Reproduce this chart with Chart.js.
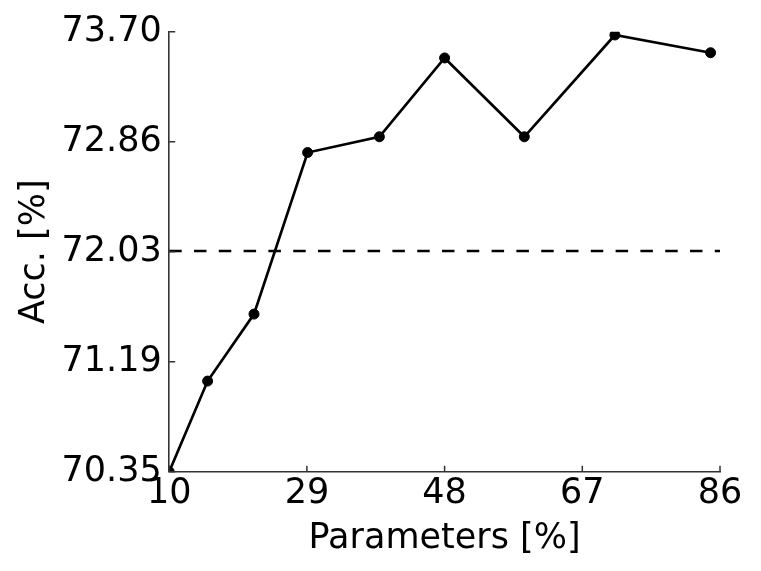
<!DOCTYPE html>
<html>
<head>
<meta charset="utf-8">
<script src="https://cdn.jsdelivr.net/npm/chart.js@4/dist/chart.umd.min.js"></script>
<style>
  html, body { margin: 0; padding: 0; background: #fff; }
  #wrap { width: 761px; height: 571px; }
</style>
</head>
<body>
<div id="wrap"><canvas id="accChart" width="761" height="571"></canvas></div>
<script>
// values
var params = [10, 15.3, 21.7, 29.1, 39.0, 48.0, 59.0, 71.5, 84.7];
var acc = [70.35, 71.04, 71.55, 72.78, 72.90, 73.50, 72.90, 73.675, 73.54];
var baseline = 72.03;
var xTicks = [10, 29, 48, 67, 86];
var yTicks = [70.35, 71.1875, 72.025, 72.8625, 73.70];

var FONT = 'DejaVu Sans';
var AXIS_COL = '#333333';

// small inward tick marks, like the original plot
var innerTicks = {
    id: 'innerTicks',
    afterDraw: function (chart) {
        var ctx = chart.ctx, area = chart.chartArea;
        var xs = chart.scales.x, ys = chart.scales.y;
        ctx.save();
        ctx.strokeStyle = AXIS_COL;
        ctx.lineWidth = 1.5;
        ctx.beginPath();
        xs.ticks.forEach(function (t) {
            var px = xs.getPixelForValue(t.value);
            ctx.moveTo(px, area.bottom);
            ctx.lineTo(px, area.bottom - 6);
        });
        ys.ticks.forEach(function (t) {
            var py = ys.getPixelForValue(t.value);
            ctx.moveTo(area.left, py);
            ctx.lineTo(area.left + 6, py);
        });
        ctx.stroke();
        ctx.restore();
    }
};

var points = params.map(function (p, i) { return {x: p, y: acc[i]}; });
var baseLine = [{x: xTicks[0], y: baseline}, {x: xTicks[xTicks.length - 1], y: baseline}];

new Chart(document.getElementById('accChart'), {
    type: 'line',
    data: {
        datasets: [
            {
                data: baseLine,
                borderColor: '#000',
                borderWidth: 2.5,
                borderDash: [12.5, 12.3],
                pointRadius: 0,
                clip: 0
            },
            {
                data: points,
                borderColor: '#000',
                backgroundColor: '#000',
                borderWidth: 2.7,
                pointRadius: 5,
                pointBorderWidth: 1,
                pointBackgroundColor: '#000',
                pointBorderColor: '#000',
                clip: 0
            }
        ]
    },
    options: {
        responsive: false,
        animation: false,
        layout: { padding: { top: 31.7, right: 41, left: 0, bottom: 0 } },
        plugins: { legend: { display: false }, tooltip: { enabled: false } },
        scales: {
            x: {
                type: 'linear',
                min: 10, max: 86,
                afterBuildTicks: function (s) { s.ticks = xTicks.map(function (v) { return {value: v}; }); },
                afterFit: function (s) { s.height = 99.3; },
                grid: { display: false, drawTicks: false },
                border: { display: true, color: AXIS_COL, width: 1.6 },
                ticks: {
                    color: '#000', padding: 1, maxRotation: 0,
                    font: { family: FONT, size: 35 },
                    callback: function (v) { return String(v); }
                },
                title: {
                    display: true, text: 'Parameters [%]', color: '#000',
                    font: { family: FONT, size: 35 },
                    padding: { top: 0, bottom: 11.5 }
                }
            },
            y: {
                type: 'linear',
                min: 70.35, max: 73.70,
                afterBuildTicks: function (s) { s.ticks = yTicks.map(function (v) { return {value: v}; }); },
                afterFit: function (s) { s.width = 169.2; },
                grid: { display: false, drawTicks: false },
                border: { display: true, color: AXIS_COL, width: 1.6 },
                ticks: {
                    color: '#000', padding: 7.5,
                    font: { family: FONT, size: 35 },
                    callback: function (v) { return Number(v).toFixed(2); }
                },
                title: {
                    display: true, text: 'Acc. [%]', color: '#000',
                    font: { family: FONT, size: 35 },
                    padding: { top: 13.5, bottom: 0 }
                }
            }
        }
    },
    plugins: [innerTicks]
});
</script>
</body>
</html>
